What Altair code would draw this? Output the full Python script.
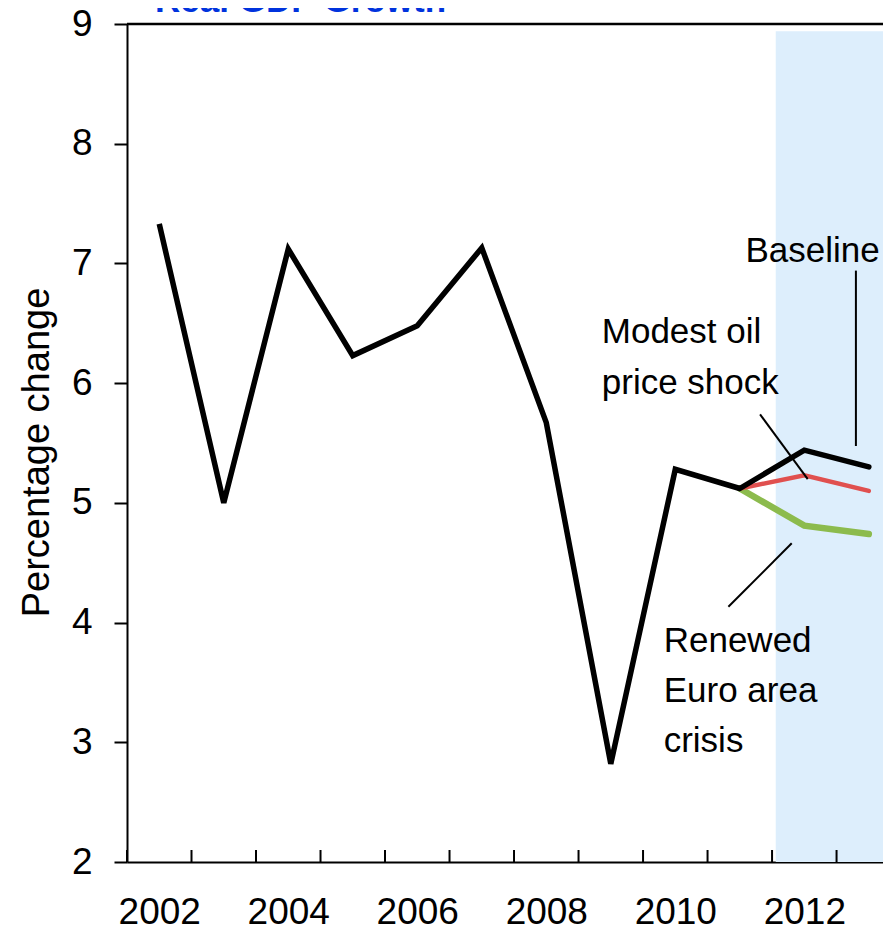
import altair as alt
import pandas as pd

# ---- data ----
hist_years = [2002, 2003, 2004, 2005, 2006, 2007, 2008, 2009, 2010, 2011]
hist_gdp = [7.33, 5.00, 7.12, 6.23, 6.48, 7.13, 5.67, 2.82, 5.28, 5.12]

proj_years = [2011, 2012, 2013]
baseline = [5.12, 5.44, 5.30]
oil_shock = [5.12, 5.23, 5.10]
euro_crisis = [5.12, 4.81, 4.74]

x_tick_labels = [2002, 2004, 2006, 2008, 2010, 2012]
y_tick_values = [2, 3, 4, 5, 6, 7, 8, 9]
all_years = list(range(2002, 2014))

x_min, x_max = 2001.5, 2013.22
shade_start, shade_top = 2011.557, 8.94

ann_left_text = ["Modest oil", "price shock", "Renewed", "Euro area", "crisis"]
ann_left_x = [2008.86, 2008.86, 2009.82, 2009.82, 2009.82]
ann_left_y = [6.333, 5.909, 3.756, 3.338, 2.921]

ann_right_text = ["Baseline"]
ann_right_x = [2013.17]
ann_right_y = [7.014]

lead_x = [2012.80, 2011.314, 2010.823]
lead_y = [6.94, 5.739, 4.132]
lead_x2 = [2012.80, 2012.053, 2011.805]
lead_y2 = [5.475, 5.199, 4.662]

title_text = "Real GDP Growth"

# ---- chart ----
FONT = "Liberation Sans, Arial, sans-serif"
W, H = 756, 838

xs = alt.Scale(domain=[x_min, x_max], nice=False, zero=False)
ys = alt.Scale(domain=[2, 9], nice=False, zero=False)

hist_df = pd.DataFrame({"year": hist_years, "gdp": hist_gdp})
proj_df = pd.DataFrame({"year": proj_years, "base": baseline, "oil": oil_shock, "euro": euro_crisis})
tick_df = pd.DataFrame({"b": [y - 0.5 for y in all_years]})
shade_df = pd.DataFrame({"x": [shade_start], "x2": [x_max], "y": [2], "y2": [shade_top]})
left_df = pd.DataFrame({"t": ann_left_text, "x": ann_left_x, "y": ann_left_y})
right_df = pd.DataFrame({"t": ann_right_text, "x": ann_right_x, "y": ann_right_y})
lead_df = pd.DataFrame({"x": lead_x, "y": lead_y, "x2": lead_x2, "y2": lead_y2})
title_df = pd.DataFrame({"t": [title_text]})

shade = alt.Chart(shade_df).mark_rect(color="#DDEEFC").encode(
    x=alt.X("x:Q", scale=xs,
            axis=alt.Axis(values=x_tick_labels, format="d", ticks=False, grid=False, title=None,
                          domainColor="black", domainWidth=2, labelFont=FONT, labelFontSize=37,
                          labelColor="black", labelPadding=32, labelFlush=False)),
    x2="x2:Q",
    y=alt.Y("y:Q", scale=ys,
            axis=alt.Axis(values=y_tick_values, format="d", grid=False, title="Percentage change",
                          domainColor="black", domainWidth=2, tickColor="black", tickWidth=2,
                          tickSize=13, labelFont=FONT, labelFontSize=37, labelColor="black",
                          labelPadding=22, titleFont=FONT,
                          titleFontSize=38, titleFontWeight="normal", titleColor="black",
                          titleX=-79, titleY=428, titleAngle=270, titleAlign="center",
                          titleBaseline="alphabetic")),
    y2="y2:Q",
)

xticks = alt.Chart(tick_df).mark_rule(color="black", strokeWidth=2).encode(
    x=alt.X("b:Q", scale=xs), y=alt.value(H), y2=alt.value(H - 12)
)

top_rule = alt.Chart().mark_rule(color="black", strokeWidth=2.5).encode(
    y=alt.Y(datum=9, scale=ys)
)

green = alt.Chart(proj_df).mark_line(color="#8CBB4D", strokeWidth=6.5, strokeCap="round").encode(
    x=alt.X("year:Q", scale=xs), y=alt.Y("euro:Q", scale=ys))
red = alt.Chart(proj_df).mark_line(color="#E0504F", strokeWidth=4.5, strokeCap="round").encode(
    x=alt.X("year:Q", scale=xs), y=alt.Y("oil:Q", scale=ys))
black_proj = alt.Chart(proj_df).mark_line(color="black", strokeWidth=5.5, strokeCap="round").encode(
    x=alt.X("year:Q", scale=xs), y=alt.Y("base:Q", scale=ys))
black_hist = alt.Chart(hist_df).mark_line(color="black", strokeWidth=5.5, strokeJoin="miter").encode(
    x=alt.X("year:Q", scale=xs), y=alt.Y("gdp:Q", scale=ys))

leaders = alt.Chart(lead_df).mark_rule(color="black", strokeWidth=2).encode(
    x=alt.X("x:Q", scale=xs), y=alt.Y("y:Q", scale=ys), x2="x2:Q", y2="y2:Q")

txt_left = alt.Chart(left_df).mark_text(align="left", baseline="alphabetic", font=FONT,
                                         fontSize=35, color="black").encode(
    x=alt.X("x:Q", scale=xs), y=alt.Y("y:Q", scale=ys), text="t:N")
txt_right = alt.Chart(right_df).mark_text(align="right", baseline="alphabetic", font=FONT,
                                           fontSize=35, color="black").encode(
    x=alt.X("x:Q", scale=xs), y=alt.Y("y:Q", scale=ys), text="t:N")

title = alt.Chart(title_df).mark_text(align="left", baseline="alphabetic", font=FONT,
                                       fontSize=35, fontWeight="bold", color="#0033DD").encode(
    x=alt.value(28), y=alt.value(-12), text="t:N")

chart = alt.layer(
    shade, xticks, top_rule, green, red, black_proj, black_hist, leaders, txt_left, txt_right, title
).properties(
    width=W, height=H,
    autosize=alt.AutoSizeParams(type="none"),
    padding={"left": 119, "top": 16, "right": 0, "bottom": 70},
).configure_view(stroke=None)

chart.save("out.html", embed_options={"renderer": "svg", "actions": False})
